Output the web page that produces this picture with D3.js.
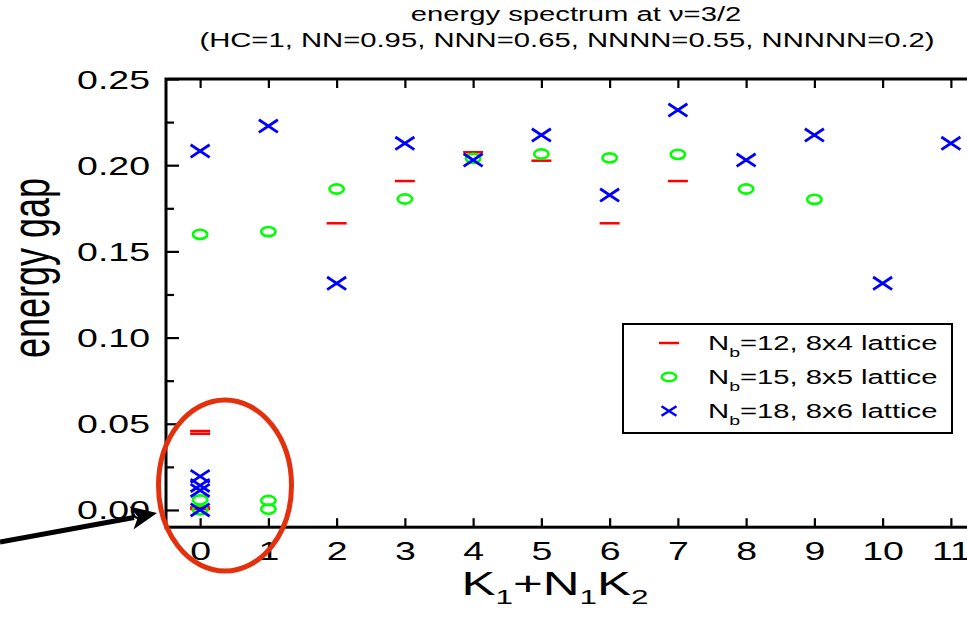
<!DOCTYPE html>
<html>
<head>
<meta charset="utf-8">
<script src="https://cdn.jsdelivr.net/npm/d3@7"></script>
<style>
  body { margin: 0; background: #fff; }
  svg { display: block; font-family: "Liberation Sans", Arial, sans-serif; }
</style>
</head>
<body>
<script>
// x ticks (K1 + N1*K2)
const xTicks = [0, 1, 2, 3, 4, 5, 6, 7, 8, 9, 10, 11];
const yMajor = [0.00, 0.05, 0.10, 0.15, 0.20, 0.25];
const yMinor = [0.025, 0.075, 0.125, 0.175, 0.225];

// Nb=12, 8x4 lattice
const nb12K   = [0, 0, 0, 0, 2, 3, 4, 5, 6, 7];
const nb12Gap = [0.0005, 0.0015, 0.0442, 0.0458, 0.1663, 0.1908, 0.2075, 0.2026, 0.1663, 0.1908];

// Nb=15, 8x5 lattice
const nb15K   = [0, 0, 1, 1, 0, 1, 2, 3, 4, 5, 6, 7, 8, 9];
const nb15Gap = [0.0, 0.0058, 0.0005, 0.0055, 0.1599, 0.1615, 0.1862, 0.1804, 0.2040, 0.2065, 0.2042, 0.2063, 0.1862, 0.1802];

// Nb=18, 8x6 lattice
const nb18K   = [0, 0, 0, 0, 0, 1, 2, 3, 4, 5, 6, 7, 8, 9, 10, 11];
const nb18Gap = [0.0, 0.0113, 0.0142, 0.0195, 0.2082, 0.2227, 0.1315, 0.2127, 0.2030, 0.2175, 0.1827, 0.2320, 0.2030, 0.2175, 0.1315, 0.2127];

const legendLabels = ['=12, 8x4 lattice', '=15, 8x5 lattice', '=18, 8x6 lattice'];

const width = 967;
const height = 627;
const sx = 1.5; // the original figure is stretched horizontally

const svg = d3.select('body')
  .append('svg')
  .attr('width', width)
  .attr('height', height);

const x = d3.scaleLinear().domain([-0.5, 11.5]).range([166, 985]);
const y = d3.scaleLinear().domain([-0.01, 0.25]).range([527.2, 79]);

// helper for stretched text
function stext(parent, tx, ty, size, anchor) {
  return parent.append('text')
    .attr('transform', `translate(${tx},${ty}) scale(${sx},1)`)
    .attr('font-size', size)
    .attr('text-anchor', anchor || 'middle')
    .attr('fill', '#000');
}

// Axes
const bottom = svg.append('g')
  .attr('transform', 'translate(0,527.2)')
  .call(d3.axisBottom(x).tickValues(xTicks).tickSize(-9).tickFormat(d3.format('d')));
bottom.selectAll('text')
  .attr('y', 33).attr('dy', 0)
  .attr('font-size', 25)
  .attr('transform', `scale(${sx},1)`);

svg.append('g')
  .attr('transform', 'translate(0,79)')
  .call(d3.axisTop(x).tickValues(xTicks).tickSize(-9).tickFormat(''));

const left = svg.append('g')
  .attr('transform', 'translate(166,0)')
  .call(d3.axisLeft(y).tickValues(yMajor).tickSize(-13).tickFormat(d3.format('.2f')));
left.selectAll('text')
  .attr('x', -16 / sx).attr('dy', '0.36em')
  .attr('font-size', 25)
  .attr('transform', `scale(${sx},1)`);

svg.append('g')
  .attr('transform', 'translate(166,0)')
  .call(d3.axisLeft(y).tickValues(yMinor).tickSize(-8).tickFormat(''));

// d3 axes put font-family="sans-serif" on their groups; drop it so the svg font applies
svg.selectAll('g').attr('font-family', null).attr('font-size', null);
svg.selectAll('.domain').remove();
svg.selectAll('.tick line').attr('stroke', '#000').attr('stroke-width', 2.2);
svg.selectAll('.tick text').attr('fill', '#000');

// frame
svg.append('rect')
  .attr('x', x(-0.5)).attr('y', y(0.25))
  .attr('width', x(11.5) - x(-0.5)).attr('height', y(-0.01) - y(0.25))
  .attr('fill', 'none').attr('stroke', '#000').attr('stroke-width', 3);

// markers
const dashPath = 'M-10,0H10';
const xPath = 'M-9.5,-6.3L9.5,6.3M-9.5,6.3L9.5,-6.3';

svg.append('g').selectAll('path')
  .data(nb12K.map((k, i) => [k, nb12Gap[i]]))
  .join('path')
  .attr('transform', d => `translate(${x(d[0])},${y(d[1])})`)
  .attr('d', dashPath)
  .attr('stroke', '#ff0000').attr('stroke-width', 2.5).attr('fill', 'none');

svg.append('g').selectAll('ellipse')
  .data(nb15K.map((k, i) => [k, nb15Gap[i]]))
  .join('ellipse')
  .attr('cx', d => x(d[0])).attr('cy', d => y(d[1]))
  .attr('rx', 7.2).attr('ry', 4.6)
  .attr('stroke', '#00ff00').attr('stroke-width', 2.6).attr('fill', 'none');

svg.append('g').selectAll('path')
  .data(nb18K.map((k, i) => [k, nb18Gap[i]]))
  .join('path')
  .attr('transform', d => `translate(${x(d[0])},${y(d[1])})`)
  .attr('d', xPath)
  .attr('stroke', '#0000ff').attr('stroke-width', 2.8).attr('fill', 'none');

// legend
const legend = svg.append('g');
legend.append('rect')
  .attr('x', 623).attr('y', 324).attr('width', 329).attr('height', 109)
  .attr('fill', '#fff').attr('stroke', '#000').attr('stroke-width', 2);

const rowY = [343, 377, 411];
legend.append('path')
  .attr('d', `M659,${rowY[0]}H679`)
  .attr('stroke', '#ff0000').attr('stroke-width', 2.5);
legend.append('ellipse')
  .attr('cx', 669).attr('cy', rowY[1]).attr('rx', 7.3).attr('ry', 4.3)
  .attr('stroke', '#00ff00').attr('stroke-width', 2.5).attr('fill', 'none');
legend.append('path')
  .attr('transform', `translate(669,${rowY[2]})`)
  .attr('d', 'M-7.5,-4.8L7.5,4.8M-7.5,4.8L7.5,-4.8')
  .attr('stroke', '#0000ff').attr('stroke-width', 2.5).attr('fill', 'none');

legendLabels.forEach((lab, i) => {
  const t = stext(legend, 708, rowY[i] + 6.5, 19.5, 'start');
  t.append('tspan').text('N');
  t.append('tspan').attr('font-size', 13).attr('dy', 7).text('b');
  t.append('tspan').attr('dy', -7).text(lab);
});

// titles
stext(svg, 576, 21, 19.5).text('energy spectrum at \u03bd=3/2');
stext(svg, 567, 46.5, 19.5).text('(HC=1, NN=0.95, NNN=0.65, NNNN=0.55, NNNNN=0.2)');

// axis titles
const xt = stext(svg, 555, 595, 34);
xt.append('tspan').text('K');
xt.append('tspan').attr('font-size', 21).attr('dy', 9).text('1');
xt.append('tspan').attr('dy', -9).text('+N');
xt.append('tspan').attr('font-size', 21).attr('dy', 9).text('1');
xt.append('tspan').attr('dy', -9).text('K');
xt.append('tspan').attr('font-size', 21).attr('dy', 9).text('2');

svg.append('text')
  .attr('transform', `translate(49,268) scale(${sx},1) rotate(-90)`)
  .attr('font-size', 36)
  .attr('text-anchor', 'middle')
  .text('energy gap');

// annotation: ellipse and arrow
svg.append('ellipse')
  .attr('cx', 225).attr('cy', 485.5).attr('rx', 66.5).attr('ry', 85.5)
  .attr('fill', 'none').attr('stroke', '#e2310c').attr('stroke-width', 5);

svg.append('line')
  .attr('x1', 0).attr('y1', 542).attr('x2', 134).attr('y2', 517.5)
  .attr('stroke', '#000').attr('stroke-width', 5);
svg.append('path')
  .attr('d', 'M157,513L133.5,529.5L138,517L129.5,506.5Z')
  .attr('fill', '#000');
</script>
</body>
</html>
